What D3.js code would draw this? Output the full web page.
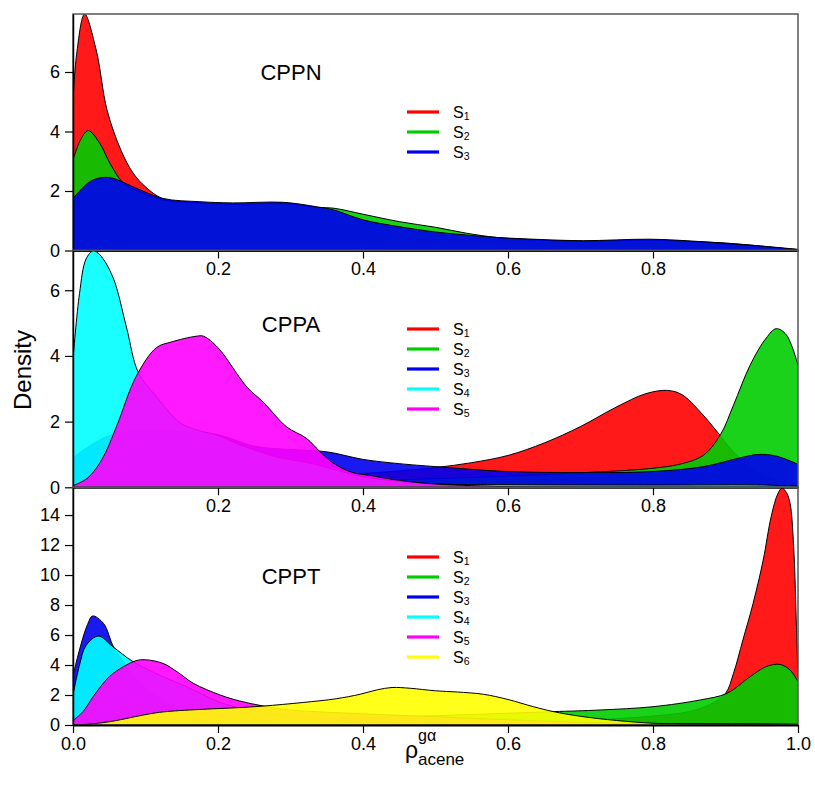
<!DOCTYPE html>
<html><head><meta charset="utf-8">
<script src="https://cdn.jsdelivr.net/npm/d3@7"></script>
<style>body{margin:0;background:#fff}</style>
</head><body>
<svg id="c" width="815" height="785"></svg>
<script>
// ---------- DATA ----------
const seriesLabels = ["1","2","3","4","5","6"];
const seriesColors = ["#ff0000","#00cd00","#0000ee","#00ffff","#ff00ff","#ffff00"];
const panelTitles = ["CPPN","CPPA","CPPT"];
const xTicksInner = [0.2,0.4,0.6,0.8];
const xTicksBottom = [0.0,0.2,0.4,0.6,0.8,1.0];
const yTicksCPPN = [0,2,4,6];
const yTicksCPPA = [0,2,4,6];
const yTicksCPPT = [0,2,4,6,8,10,12,14];
const yMaxCPPN = 7.95, yMaxCPPA = 7.21, yMaxCPPT = 15.85;

// CPPN
const cppnS1 = [[0,5.0],[0.005,6.6],[0.016,7.95],[0.032,6.74],[0.047,4.72],[0.066,3.38],[0.083,2.6],[0.1,2.14],[0.124,1.74],[0.175,1.6],[0.22,1.55],[0.29,1.55],[0.336,1.4],[0.4,1.0],[0.45,0.75],[0.5,0.58],[0.55,0.48],[0.6,0.4],[0.7,0.3],[0.8,0.33],[0.9,0.25],[1.0,0.02]];
const cppnS2 = [[0,3.04],[0.01,3.7],[0.021,4.03],[0.037,3.6],[0.051,2.93],[0.069,2.28],[0.09,2.0],[0.124,1.7],[0.175,1.6],[0.22,1.55],[0.29,1.58],[0.336,1.45],[0.36,1.42],[0.4,1.22],[0.45,0.97],[0.5,0.78],[0.543,0.58],[0.584,0.44],[0.635,0.36],[0.7,0.31],[0.8,0.35],[0.865,0.28],[0.934,0.16],[1.0,0.03]];
const cppnS3 = [[0,1.75],[0.023,2.31],[0.04,2.45],[0.055,2.43],[0.083,2.14],[0.124,1.75],[0.175,1.64],[0.22,1.6],[0.29,1.62],[0.336,1.47],[0.36,1.36],[0.4,1.03],[0.45,0.8],[0.5,0.62],[0.543,0.52],[0.584,0.44],[0.635,0.38],[0.704,0.33],[0.796,0.38],[0.865,0.3],[0.934,0.18],[1.0,0.04]];

// CPPA
const cppaS1 = [[0,0.05],[0.1,0.1],[0.2,0.2],[0.3,0.3],[0.4,0.42],[0.45,0.5],[0.5,0.6],[0.55,0.75],[0.6,0.97],[0.65,1.35],[0.7,1.85],[0.75,2.45],[0.79,2.85],[0.82,2.95],[0.84,2.82],[0.865,2.3],[0.89,1.65],[0.91,1.1],[0.94,0.5],[0.97,0.2],[1.0,0.1]];
const cppaS2 = [[0,0.05],[0.2,0.1],[0.4,0.2],[0.55,0.3],[0.69,0.43],[0.8,0.58],[0.84,0.72],[0.87,0.98],[0.893,1.6],[0.911,2.5],[0.934,3.72],[0.956,4.54],[0.97,4.83],[0.984,4.64],[1.0,3.72]];
const cppaS3 = [[0,0.9],[0.046,1.54],[0.1,1.75],[0.15,1.7],[0.2,1.6],[0.25,1.25],[0.3,1.15],[0.35,1.08],[0.4,0.85],[0.45,0.72],[0.5,0.63],[0.6,0.48],[0.7,0.45],[0.8,0.48],[0.87,0.63],[0.917,0.88],[0.945,1.0],[0.97,0.95],[1.0,0.7]];
const cppaS4 = [[0,3.9],[0.009,5.9],[0.018,6.95],[0.028,7.2],[0.037,7.08],[0.055,6.4],[0.074,4.85],[0.09,3.5],[0.115,2.76],[0.148,1.96],[0.17,1.75],[0.2,1.58],[0.225,1.34],[0.28,0.93],[0.33,0.72],[0.4,0.32],[0.45,0.18],[0.5,0.1],[0.6,0.08],[0.8,0.07],[0.95,0.07],[1.0,0.03]];
const cppaS5 = [[0,0.05],[0.02,0.28],[0.04,0.85],[0.06,1.85],[0.087,3.37],[0.115,4.25],[0.135,4.42],[0.17,4.6],[0.18,4.6],[0.2,4.25],[0.24,3.05],[0.263,2.58],[0.294,1.85],[0.322,1.49],[0.34,1.1],[0.36,0.72],[0.386,0.45],[0.41,0.36],[0.43,0.28],[0.465,0.17],[0.5,0.1],[0.55,0.05],[0.6,0.02],[0.7,0.01],[1.0,0.0]];

// CPPT
const cpptS1 = [[0,0.02],[0.2,0.05],[0.4,0.1],[0.6,0.2],[0.7,0.3],[0.8,0.6],[0.85,0.9],[0.88,1.4],[0.9,2.1],[0.911,3.44],[0.924,5.67],[0.938,8.1],[0.952,11.0],[0.963,13.9],[0.972,15.4],[0.978,15.8],[0.984,15.5],[0.989,14.8],[0.994,11.9],[0.998,6.3],[1.0,3.2]];
const cpptS2 = [[0,0.05],[0.1,0.15],[0.2,0.28],[0.3,0.38],[0.45,0.55],[0.55,0.7],[0.662,0.89],[0.727,1.0],[0.8,1.22],[0.865,1.67],[0.902,2.11],[0.934,3.22],[0.956,3.89],[0.975,4.04],[0.989,3.67],[1.0,2.89]];
const cpptS3 = [[0,3.3],[0.01,5.2],[0.02,6.7],[0.027,7.27],[0.042,6.78],[0.056,5.2],[0.07,4.2],[0.09,3.0],[0.11,2.1],[0.14,1.2],[0.17,0.7],[0.22,0.4],[0.3,0.25],[0.4,0.15],[0.6,0.1],[0.8,0.08],[0.95,0.08],[1.0,0.05]];
const cpptS4 = [[0,2.0],[0.009,4.0],[0.018,5.3],[0.035,5.93],[0.055,5.22],[0.083,4.22],[0.124,3.22],[0.156,2.56],[0.2,1.56],[0.225,1.2],[0.26,0.85],[0.3,0.55],[0.35,0.3],[0.4,0.15],[0.5,0.08],[0.7,0.05],[1.0,0.03]];
const cpptS5 = [[0,0.3],[0.014,0.9],[0.028,1.9],[0.05,3.22],[0.07,3.9],[0.087,4.29],[0.1,4.35],[0.124,4.11],[0.145,3.5],[0.166,2.78],[0.203,2.0],[0.23,1.6],[0.262,1.27],[0.3,1.0],[0.4,0.75],[0.5,0.55],[0.6,0.35],[0.7,0.18],[0.8,0.07],[0.9,0.03],[1.0,0.01]];
const cpptS6 = [[0,0.0],[0.02,0.05],[0.04,0.15],[0.06,0.3],[0.085,0.55],[0.11,0.78],[0.13,0.9],[0.18,1.05],[0.225,1.15],[0.262,1.26],[0.317,1.5],[0.363,1.75],[0.396,2.05],[0.42,2.35],[0.44,2.5],[0.465,2.45],[0.5,2.28],[0.53,2.2],[0.566,2.05],[0.6,1.7],[0.635,1.22],[0.662,0.9],[0.7,0.58],[0.75,0.3],[0.8,0.12],[0.865,0.05],[0.9,0.03],[1.0,0.01]];

// ---------- LAYOUT ----------
const FONT = "'Liberation Sans', Arial, Helvetica, sans-serif";
const L = 73, R = 798;
const panels = [
  {title: panelTitles[0], top: 14,    bottom: 250.5, yMax: yMaxCPPN, yTicks: yTicksCPPN, series: [cppnS1,cppnS2,cppnS3], xTicks: xTicksInner, legendY: 112, titleY: 80},
  {title: panelTitles[1], top: 250.5, bottom: 487.3, yMax: yMaxCPPA, yTicks: yTicksCPPA, series: [cppaS1,cppaS2,cppaS3,cppaS4,cppaS5], xTicks: xTicksInner, legendY: 329, titleY: 332},
  {title: panelTitles[2], top: 487.3, bottom: 725,   yMax: yMaxCPPT, yTicks: yTicksCPPT, series: [cpptS1,cpptS2,cpptS3,cpptS4,cpptS5,cpptS6], xTicks: xTicksBottom, legendY: 557, titleY: 584}
];

const svg = d3.select("#c");
const x = d3.scaleLinear().domain([0,1]).range([L,R]);
const defs = svg.append("defs");
const curve = d3.curveCatmullRom.alpha(0.5);

panels.forEach((p, pi) => {
  const y = d3.scaleLinear().domain([0,p.yMax]).range([p.bottom,p.top]);
  const cid = "clip" + pi;
  defs.append("clipPath").attr("id", cid).append("rect")
    .attr("x", L).attr("y", p.top).attr("width", R-L).attr("height", p.bottom-p.top);
  const g = svg.append("g").attr("clip-path", `url(#${cid})`);
  const area = d3.area().x(d=>x(d[0])).y0(y(0)).y1(d=>y(d[1])).curve(curve);
  const line = d3.line().x(d=>x(d[0])).y(d=>y(d[1])).curve(curve);
  p.series.forEach((s, si) => {
    g.append("path").attr("d", area(s)).attr("fill", seriesColors[si]).attr("fill-opacity", 0.9);
    g.append("path").attr("d", line(s)).attr("fill","none").attr("stroke","#000").attr("stroke-width",1);
  });

  // frame
  svg.append("rect").attr("x",L).attr("y",p.top).attr("width",R-L).attr("height",p.bottom-p.top)
    .attr("fill","none").attr("stroke","#555").attr("stroke-width",1.5);

  // y axis
  const ya = svg.append("g").attr("transform",`translate(${L},0)`)
    .call(d3.axisLeft(y).tickValues(p.yTicks).tickFormat(d3.format("d")).tickSize(8).tickSizeOuter(0).tickPadding(5));
  ya.select(".domain").attr("stroke","#000").attr("stroke-width",1.5);
  ya.selectAll(".tick line").attr("stroke","#000").attr("stroke-width",1.2);
  ya.selectAll("text").attr("font-family",FONT).attr("font-size",18).attr("fill","#000");

  // x axis
  const xa = svg.append("g").attr("transform",`translate(0,${p.bottom})`)
    .call(d3.axisBottom(x).tickValues(p.xTicks).tickFormat(d3.format(".1f")).tickSize(8).tickSizeOuter(0).tickPadding(4));
  xa.select(".domain").attr("stroke","#000").attr("stroke-width",2);
  xa.selectAll(".tick line").attr("stroke","#000").attr("stroke-width",1.2);
  xa.selectAll("text").attr("font-family",FONT).attr("font-size",18).attr("fill","#000");

  // title
  svg.append("text").attr("x",291).attr("y",p.titleY).attr("text-anchor","middle")
    .attr("font-family",FONT).attr("font-size",22).text(p.title);

  // legend
  p.series.forEach((s, si) => {
    const ly = p.legendY + si*20;
    svg.append("line").attr("x1",407).attr("x2",439).attr("y1",ly).attr("y2",ly)
      .attr("stroke",seriesColors[si]).attr("stroke-width",3.2);
    const t = svg.append("text").attr("x",453).attr("y",ly+5.6)
      .attr("font-family",FONT).attr("font-size",16);
    t.append("tspan").text("S");
    t.append("tspan").attr("font-size",10.5).attr("dy",2.5).text(seriesLabels[si]);
  });
});

// axis titles
svg.append("text").attr("transform","translate(31,370) rotate(-90)").attr("text-anchor","middle")
  .attr("font-family",FONT).attr("font-size",24).text("Density");
svg.append("text").attr("x",405).attr("y",758).attr("font-family",FONT).attr("font-size",23).text("ρ");
svg.append("text").attr("x",418).attr("y",741).attr("font-family",FONT).attr("font-size",16).text("gα");
svg.append("text").attr("x",418).attr("y",765).attr("font-family",FONT).attr("font-size",17).text("acene");
</script>
</body></html>
